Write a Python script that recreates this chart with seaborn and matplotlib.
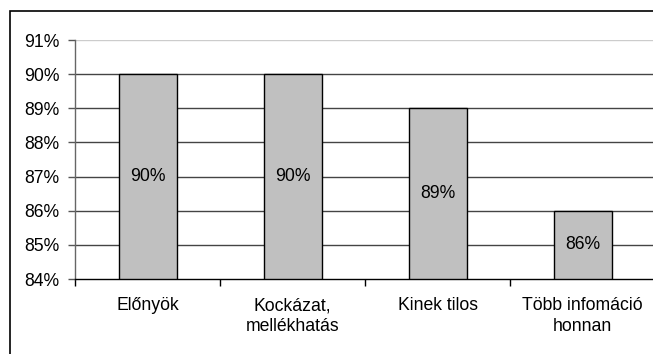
import matplotlib
matplotlib.use("Agg")
import matplotlib.pyplot as plt
import seaborn as sns
import pandas as pd
from matplotlib.patches import Rectangle
from matplotlib.ticker import FixedLocator

categories = ["Előnyök", "Kockázat,\nmellékhatás", "Kinek tilos", "Több infomáció\nhonnan"]
values = [90, 90, 89, 86]
yticks = [84, 85, 86, 87, 88, 89, 90, 91]

sns.set_theme(style="white")
plt.rcParams['font.family'] = ['Liberation Sans', 'DejaVu Sans']
plt.rcParams['text.color'] = 'black'
plt.rcParams['xtick.color'] = 'black'
plt.rcParams['ytick.color'] = 'black'

W, H = 653, 354
FS = 12.7
fig = plt.figure(figsize=(W / 100, H / 100), dpi=100)
fig.patches.append(Rectangle((10 / W, -0.1), 1.2, 1 - 11 / H + 0.1, transform=fig.transFigure,
                             fill=False, edgecolor="black", linewidth=1.2))
ax = fig.add_axes([75 / W, 1 - 279 / H, 580 / W, 239 / H])

df = pd.DataFrame({"cat": categories, "val": values})
sns.barplot(data=df, x="cat", y="val", ax=ax, color="#C0C0C0", edgecolor="black",
            linewidth=1, width=0.4, saturation=1)

ax.set_ylim(84, 91)
ax.set_xlim(-0.5, 3.5)
ax.set_yticks(yticks)
ax.set_yticklabels([f"{v}%" for v in yticks], fontsize=FS)
ax.set_xticks(range(4))
ax.set_xticklabels(categories, fontsize=FS, linespacing=1.3)
ax.xaxis.set_minor_locator(FixedLocator([-0.5, 0.5, 1.5, 2.5, 3.5]))
ax.tick_params(axis="x", which="major", length=0, pad=13)
ax.tick_params(axis="x", which="minor", length=5, width=1, color="black", direction="out", bottom=True)
ax.tick_params(axis="y", length=5, width=1, color="#555555", labelcolor="black",
               direction="out", left=True, pad=6)
ax.set_xlabel("")
ax.set_ylabel("")

for v in yticks[1:]:
    color = "#cccccc" if v == 91 else "#444444"
    ax.axhline(v, color=color, linewidth=1, zorder=0)

for s in ["top", "right"]:
    ax.spines[s].set_visible(False)
ax.spines["left"].set_color("#666666")
ax.spines["left"].set_linewidth(1)
ax.spines["bottom"].set_color("black")
ax.spines["bottom"].set_linewidth(1)

for i, v in enumerate(values):
    ax.text(i, (84 + v) / 2, f"{v}%", ha="center", va="center", fontsize=FS, color="black")

fig.savefig("out.png", dpi=100, facecolor="white")
